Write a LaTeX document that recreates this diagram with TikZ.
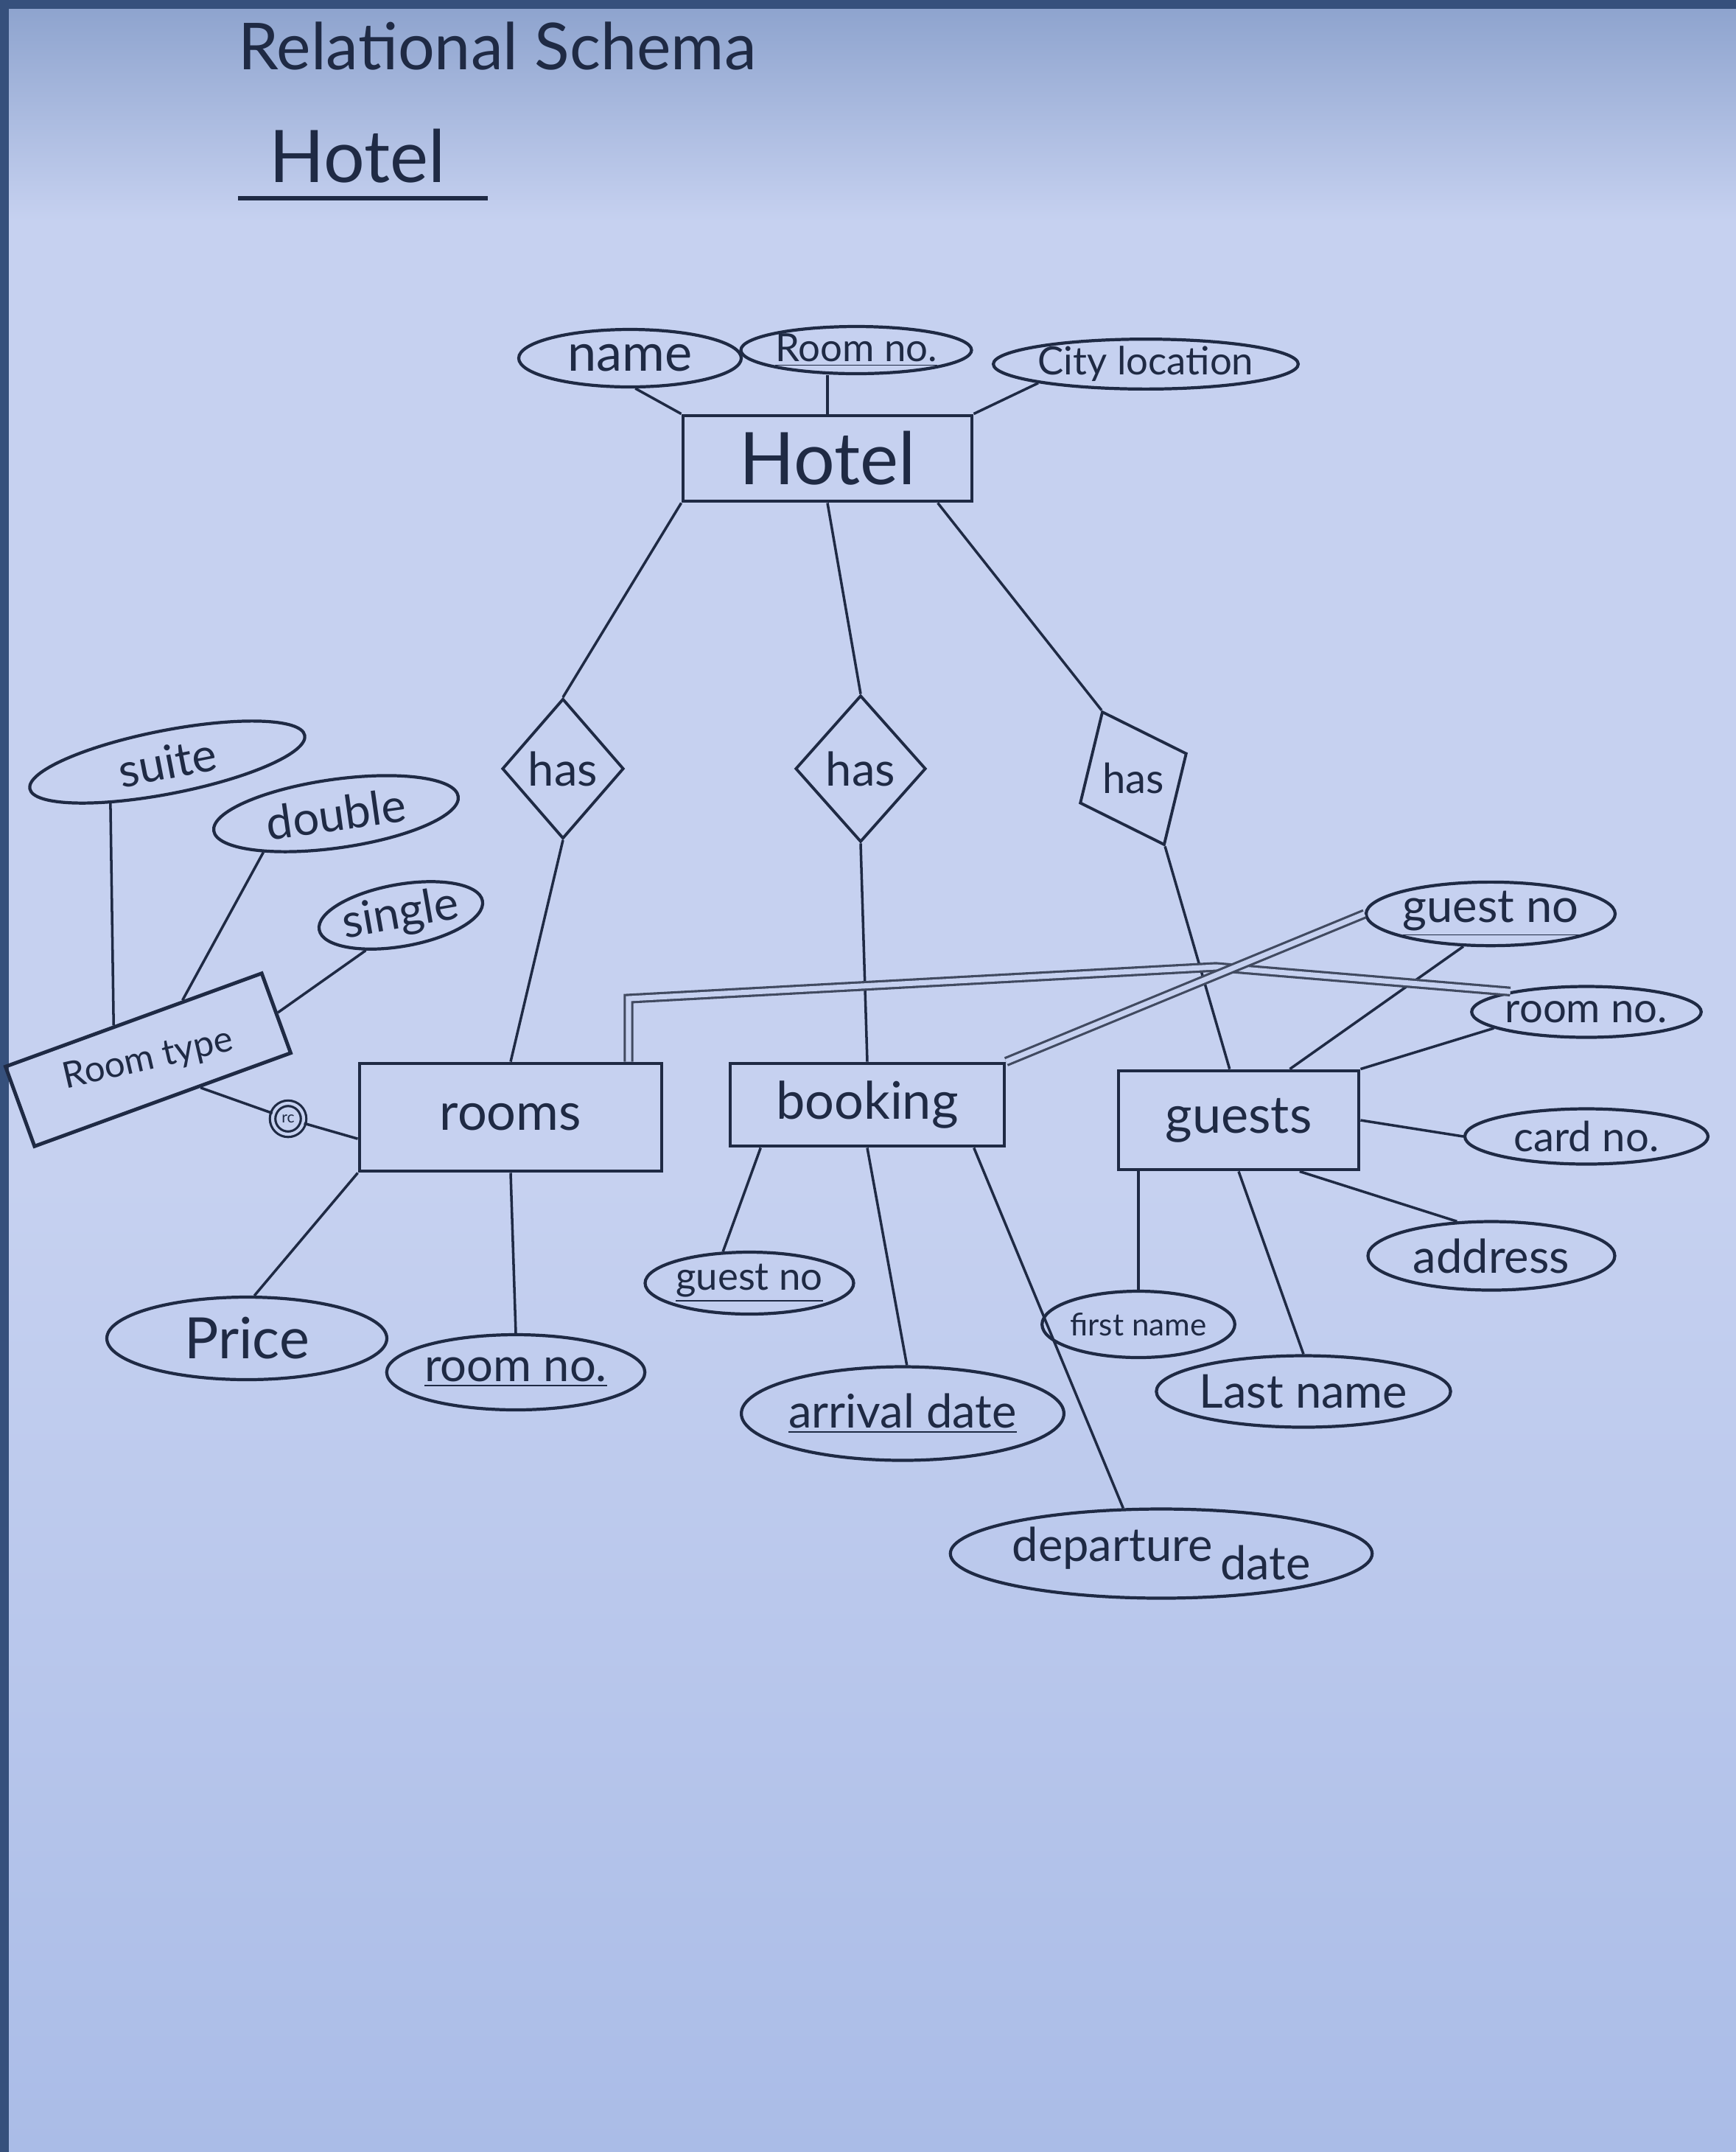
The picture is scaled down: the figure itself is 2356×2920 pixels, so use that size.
\documentclass[tikz,border=0pt]{standalone}
\usepackage{fontspec}
\setmainfont{Lato}
\usetikzlibrary{shapes.geometric,calc}
\definecolor{ink}{HTML}{1F2A44}
\definecolor{paper}{HTML}{C6D1F0}
\definecolor{papertop}{HTML}{8CA2CD}
\definecolor{paperlow}{HTML}{AABCE7}
\definecolor{edge}{HTML}{36507C}
\newcommand{\fs}[1]{\fontsize{#1}{#1}\selectfont}

\begin{document}
\begin{tikzpicture}[x=0.1mm,y=-0.1mm,
    ent/.style={draw=ink,line width=1.4pt,text=ink,rectangle,inner sep=0pt,font=\fs{20}},
    rel/.style={draw=ink,line width=1.1pt,text=ink,diamond,inner sep=0pt,
      minimum width=16.5mm,minimum height=19mm,font=\fs{18}},
    att/.style={draw=ink,line width=1.2pt,text=ink,ellipse,inner sep=0pt,font=\fs{18}},
    ln/.style={ink,line width=1pt},
    fk/.style={ink!85,line width=0.9pt,double=paper,double distance=2pt}]
    \useasboundingbox (0,0) rectangle (2356,2920);
    \fill[paper] (0,0) rectangle (2356,2920);
    \shade[top color=papertop,bottom color=paper] (0,0) rectangle (2356,300);
    \shade[top color=paper,bottom color=paperlow] (0,1600) rectangle (2356,2920);
    \fill[edge] (0,0) rectangle (2356,12); \fill[edge] (0,0) rectangle (12,2920);

    \node[text=ink,font=\fs{25}] (title) at (675,62) {Relational Schema};
    \node[text=ink,font=\fs{28}] (head) at (485,212) {Hotel};
    \draw[ln,line width=1.6pt] ($(head.south west)+(-30,8)$) -- ($(head.south east)+(45,8)$);

    \node[ent,minimum width=39.2mm,minimum height=11.6mm,font=\fs{28}] (hotel) at (1123,622) {Hotel};
    \node[att,minimum width=30.2mm,minimum height=7.8mm,font=\fs{20}] (hname) at (855,486) {name};
    \node[att,minimum width=31.3mm,minimum height=6.4mm,font=\fs{15}] (hroom) at (1162,475) {\underline{Room no.}};
    \node[att,minimum width=34.6mm,minimum height=6.5mm,font=\fs{15}] (hcity) at (1555,494) {City location};

    \node[rel] (has1) at (764,1043) {has};
    \node[rel,minimum width=17.7mm,minimum height=19.9mm] (has2) at (1168,1043) {has};
    \node[rel,minimum width=16mm,minimum height=20mm,rotate=25] (has3) at (1538,1056) {};
    \node[text=ink,font=\fs{16}] (has3txt) at (has3) {has};

    \node[ent,minimum width=41mm,minimum height=14.6mm] (rooms) at (693,1516) {rooms};
    \node[ent,minimum width=37.2mm,minimum height=11.2mm] (booking) at (1177,1499) {booking};
    \node[ent,minimum width=32.6mm,minimum height=13.4mm] (guests) at (1681,1520) {guests};
    \node[ent,minimum width=37mm,minimum height=11.5mm,rotate=20] (rtype) at (201,1438) {};
    \node[text=ink,font=\fs{14},rotate=13] (rtypetxt) at (rtype) {Room type};
    \node[draw=ink,line width=0.9pt,double=paper,double distance=1.2pt,circle,minimum size=4.2mm,
      inner sep=0pt,font=\fs{6},text=ink] (dj) at (391,1518) {rc};

    \node[att,minimum width=38mm,minimum height=8.6mm,rotate=11] (suite) at (227,1034) {suite};
    \node[att,minimum width=33.5mm,minimum height=9.3mm,rotate=8] (double) at (456,1104) {double};
    \node[att,minimum width=22.3mm,minimum height=8.4mm,rotate=10] (single) at (544,1242) {single};
    \node[att,minimum width=38mm,minimum height=11.2mm,font=\fs{22}] (price) at (335,1816) {Price};
    \node[att,minimum width=35mm,minimum height=10.2mm] (rno) at (700,1862) {\underline{room no.}};
    \node[att,minimum width=28.3mm,minimum height=8.4mm,font=\fs{15}] (bguest) at (1017,1741) {\underline{guest no}};
    \node[att,minimum width=38.5mm,minimum height=12.7mm] (arrive) at (1225,1918) {\underline{arrival date}};
    \node[att,minimum width=44.1mm,minimum height=12.1mm] (depart) at (1576,2108) {departure\,\raisebox{-0.8ex}{date}};
    \node[att,minimum width=32mm,minimum height=8.4mm] (gguest) at (2023,1240) {\underline{guest no}};
    \node[att,minimum width=29.2mm,minimum height=6.9mm,font=\fs{16}] (groom) at (2153,1373) {room no.};
    \node[att,minimum width=33mm,minimum height=7.5mm,font=\fs{16}] (gcard) at (2153,1542) {card no.};
    \node[att,minimum width=33.5mm,minimum height=9.3mm] (gaddr) at (2024,1704) {address};
    \node[att,minimum width=25mm,minimum height=9mm,font=\fs{12}] (gfirst) at (1545,1797) {first name};
    \node[att,minimum width=38.5mm,minimum height=9.7mm] (glast) at (1769,1888) {Last name};

    \draw[ln] (hname.-80) -- (hotel.north west);
    \draw[ln] (hroom.south -| hotel.north) -- (hotel.north);
    \draw[ln] (hcity.190) -- (hotel.north east);
    \draw[ln] (hotel.south west) -- (has1.north);
    \draw[ln] (hotel.south) -- (has2.north);
    \draw[ln] (hotel.-22) -- (has3.north);
    \draw[ln] (has1.south) -- (rooms.north);
    \draw[ln] (has2.south) -- (booking.north);
    \draw[ln] (has3.south) -- (guests.100);

    \draw[ln] (suite.205) -- (rtype.115);
    \draw[ln] (double.200) -- (rtype.40);
    \draw[ln] (single.215) -- (rtype.east);
    \draw[ln] (rtype.-48) -- (dj); \draw[ln] (dj) -- (rooms.188);

    \draw[ln] (rooms.south west) -- (price.80);
    \draw[ln] (rooms.south) -- (rno.north);
    \draw[ln] (booking.202) -- (bguest.130);
    \draw[ln] (booking.south) -- (arrive.85);
    \draw[ln] (booking.-22) -- (depart.130);

    \draw[ln] (guests.45) -- (gguest.230);
    \draw[ln] (guests.north east) -- (groom.190);
    \draw[ln] (guests.east) -- (gcard.west);
    \draw[ln] (guests.-40) -- (gaddr.135);
    \draw[ln] (gfirst.north |- guests.south) -- (gfirst.north);
    \draw[ln] (guests.south) -- (glast.north);

    \coordinate (k1) at (853,1355);
    \coordinate (k2) at (1650,1312);
    \draw[fk] (rooms.north -| k1) -- (k1) -- (k2) -- (groom.165);
    \draw[fk] (booking.north east) -- (gguest.west);
\end{tikzpicture}
\end{document}
